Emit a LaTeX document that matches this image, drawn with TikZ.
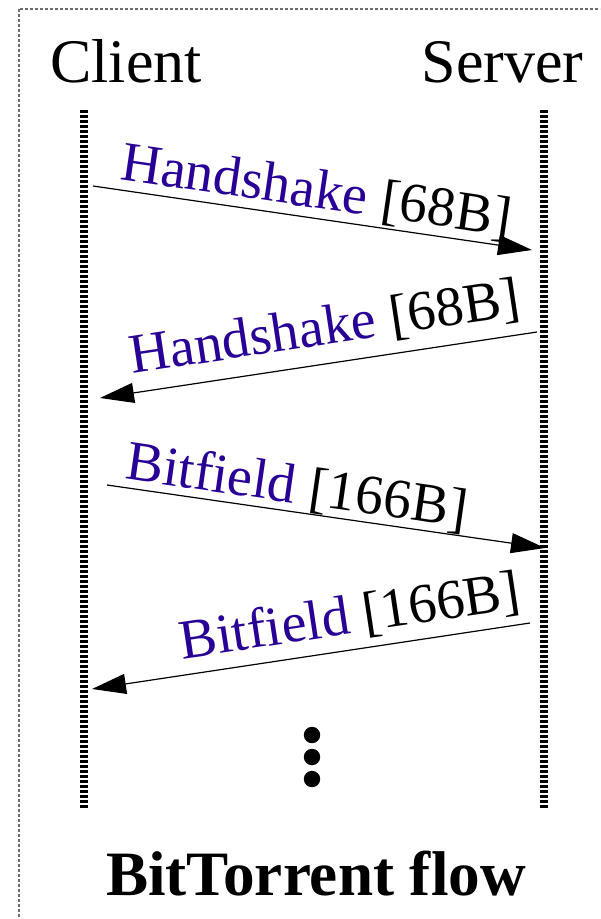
\documentclass[tikz,border=0pt]{standalone}
\usepackage{fontspec}
\setmainfont{Liberation Serif}
\usetikzlibrary{arrows.meta}
\definecolor{msgblue}{RGB}{40,0,150}
\definecolor{framegray}{RGB}{110,110,110}
\begin{document}
\begin{tikzpicture}[x=0.5pt,y=-0.5pt,
  frame/.style={draw=framegray, line width=0.6pt, dash pattern=on 1.5pt off 1pt},
  lifeline/.style={line width=3.6pt, dash pattern=on 1.5pt off 1pt},
  msg/.style={line width=0.6pt, -{Triangle[length=17pt,width=10pt]}},
  msglabel/.style={sloped, anchor=base, inner sep=0pt,
    font=\fontsize{28}{32}\selectfont},
  party/.style={inner sep=0pt, font=\fontsize{31}{36}\selectfont},
  caption/.style={inner sep=0pt, anchor=base, font=\fontsize{31.6}{36}\selectfont\bfseries},
  dot/.style={circle, fill=black, inner sep=0pt, minimum size=8.2pt},
]
\useasboundingbox (0,0) rectangle (600,919);
\clip (0,0) rectangle (600,919);

% outer dashed frame
\draw[frame] (19,9) rectangle (640,960);

% participants
\node[party, anchor=base west] (client) at (50,83) {Client};
\node[party, anchor=base east] (server) at (584,83) {Server};

% lifelines
\coordinate (ctop) at (84,110);
\coordinate (cbot) at (84,808);
\coordinate (stop) at (544,110);
\coordinate (sbot) at (544,808);
\draw[lifeline] (ctop) -- (cbot);
\draw[lifeline] (stop) -- (sbot);

% message end points
\coordinate (m1a) at (93,186);
\coordinate (m1b) at (532,250);
\coordinate (m2a) at (537,332);
\coordinate (m2b) at (100,398);
\coordinate (m3a) at (107,485);
\coordinate (m3b) at (545,548);
\coordinate (m4a) at (530,623);
\coordinate (m4b) at (92,689);

% messages
\draw[msg] (m1a) -- node[msglabel, pos=0.5, yshift=5.2pt]
  (l1) {\textcolor{msgblue}{Handshake} [68B]} (m1b);
\draw[msg] (m2a) -- node[msglabel, pos=0.474, yshift=9.5pt]
  (l2) {\textcolor{msgblue}{Handshake} [68B]} (m2b);
\draw[msg] (m3a) -- node[msglabel, pos=0.425, yshift=4.3pt]
  (l3) {\textcolor{msgblue}{Bitfield} [166B]} (m3b);
\draw[msg] (m4a) -- node[msglabel, pos=0.40, yshift=8pt]
  (l4) {\textcolor{msgblue}{Bitfield} [166B]} (m4b);

% continuation dots
\node[dot] (d1) at (312,735) {};
\node[dot] (d2) at (312,757) {};
\node[dot] (d3) at (312,779) {};

% caption
\node[caption] (title) at (316,895) {BitTorrent flow};
\end{tikzpicture}
\end{document}
